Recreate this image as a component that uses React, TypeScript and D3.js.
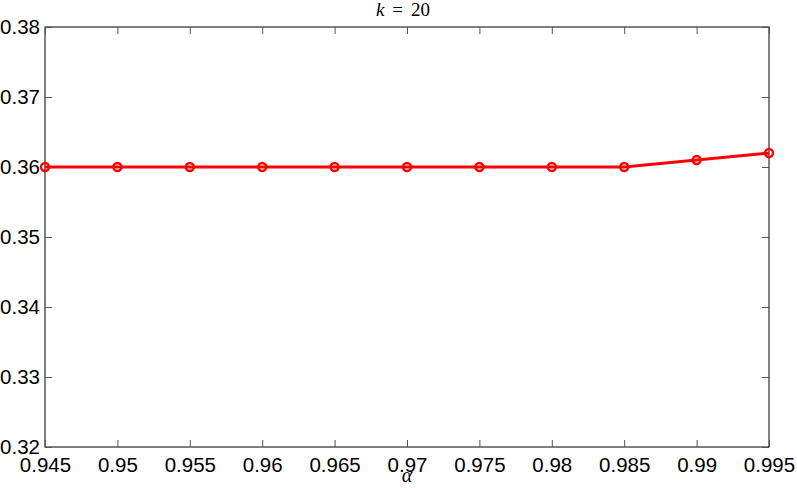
import { useEffect, useRef } from "react";
import * as d3 from "d3";

const alphas = [0.945, 0.95, 0.955, 0.96, 0.965, 0.97, 0.975, 0.98, 0.985, 0.99, 0.995];
const values = [0.36, 0.36, 0.36, 0.36, 0.36, 0.36, 0.36, 0.36, 0.36, 0.361, 0.362];
const xTicks = alphas;
const yTicks = [0.32, 0.33, 0.34, 0.35, 0.36, 0.37, 0.38];

export default function App() {
  const svgRef = useRef<SVGSVGElement | null>(null);

  useEffect(() => {
    const svgEl = svgRef.current;
    if (!svgEl) return;
    const width = 797;
    const height = 488;
    const margin = { top: 27, right: 28, bottom: 41, left: 45 };
    const innerW = width - margin.left - margin.right;
    const innerH = height - margin.top - margin.bottom;

    const svg = d3.select(svgEl);
    svg.selectAll("*").remove();

    const x = d3.scaleLinear().domain([0.945, 0.995]).range([0, innerW]);
    const y = d3.scaleLinear().domain([0.32, 0.38]).range([innerH, 0]);

    const g = svg.append("g").attr("transform", `translate(${margin.left},${margin.top})`);
    const font = "Liberation Sans, Arial, Helvetica, sans-serif";
    const tickLen = 7;
    const labelSize = 20.5;

    // frame
    g.append("rect")
      .attr("width", innerW)
      .attr("height", innerH)
      .attr("fill", "none")
      .attr("stroke", "#000")
      .attr("stroke-width", 1);

    // ticks point inward on all four sides
    const bottom = g.append("g").attr("transform", `translate(0,${innerH})`)
      .call(d3.axisBottom(x).tickValues(xTicks).tickSize(-tickLen).tickPadding(10).tickFormat((d) => d3.format("")(+d)));
    bottom.select(".domain").remove();
    bottom.selectAll("text").attr("font-family", font).attr("font-size", labelSize).attr("fill", "#000");

    const top = g.append("g")
      .call(d3.axisTop(x).tickValues(xTicks).tickSize(-tickLen).tickFormat(() => ""));
    top.select(".domain").remove();

    const left = g.append("g")
      .call(d3.axisLeft(y).tickValues(yTicks).tickSize(-tickLen).tickPadding(5).tickFormat(d3.format(".2f")));
    left.select(".domain").remove();
    left.selectAll("text").attr("font-family", font).attr("font-size", labelSize).attr("fill", "#000");

    const right = g.append("g").attr("transform", `translate(${innerW},0)`)
      .call(d3.axisRight(y).tickValues(yTicks).tickSize(-tickLen).tickFormat(() => ""));
    right.select(".domain").remove();

    svg.selectAll(".tick line").attr("stroke", "#555");

    const line = d3.line<number>()
      .x((_, i) => x(alphas[i]))
      .y((d) => y(d));

    g.append("path")
      .datum(values)
      .attr("fill", "none")
      .attr("stroke", "#ff0000")
      .attr("stroke-width", 2.8)
      .attr("d", line);

    g.selectAll("circle.pt")
      .data(values)
      .join("circle")
      .attr("class", "pt")
      .attr("cx", (_, i) => x(alphas[i]))
      .attr("cy", (d) => y(d))
      .attr("r", 4)
      .attr("fill", "none")
      .attr("stroke", "#ff0000")
      .attr("stroke-width", 2.4);

    // title
    const title = svg.append("text")
      .attr("x", 403)
      .attr("y", 16)
      .attr("text-anchor", "middle")
      .attr("font-family", "Liberation Serif, DejaVu Serif, serif")
      .attr("font-size", 19);
    title.append("tspan").attr("font-style", "italic").text("k");
    title.append("tspan").attr("dx", 8).text("=");
    title.append("tspan").attr("dx", 8).text("20");

    svg.append("text")
      .attr("x", margin.left + innerW / 2)
      .attr("y", 482)
      .attr("text-anchor", "middle")
      .attr("font-family", "Liberation Serif, serif")
      .attr("font-style", "italic")
      .attr("font-size", 20)
      .text("α");
  }, []);

  return (
    <svg
      ref={svgRef}
      width={797}
      height={488}
      style={{ position: "absolute", left: 0, top: 0, background: "#fff" }}
    />
  );
}
